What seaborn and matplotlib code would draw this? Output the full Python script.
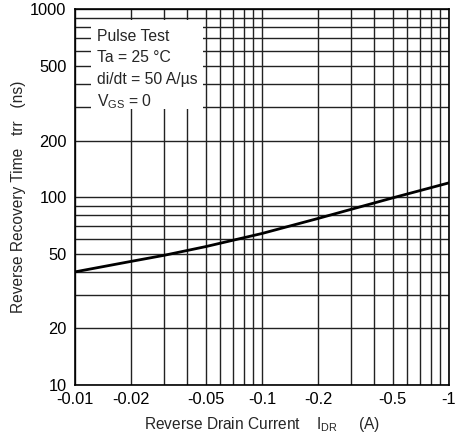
import pandas as pd
import matplotlib.pyplot as plt
import matplotlib.ticker as mticker
from matplotlib.patches import Rectangle
import seaborn as sns

# reverse drain current magnitude (A) and recovery time (ns)
current = [0.01, 0.02, 0.03, 0.05, 0.1, 0.2, 0.5, 1.0]
trr = [40, 45.5, 49, 54.5, 64, 77, 99, 119]

x_ticks = [0.01, 0.02, 0.05, 0.1, 0.2, 0.5, 1]
x_labels = ["-0.01", "-0.02", "-0.05", "-0.1", "-0.2", "-0.5", "-1"]
y_ticks = [10, 20, 50, 100, 200, 500, 1000]
y_labels = ["10", "20", "50", "100", "200", "500", "1000"]

df = pd.DataFrame({"idr": current, "trr": trr})

sns.set_style("white")
plt.rcParams["font.family"] = ["Liberation Sans", "DejaVu Sans"]

fig = plt.figure(figsize=(4.57, 4.38), dpi=100)
ax = fig.add_axes([0.164, 0.121, 0.818, 0.858])

sns.lineplot(data=df, x="idr", y="trr", ax=ax, color="black", linewidth=2.0, zorder=5)

ax.set_xscale("log")
ax.set_yscale("log")
ax.set_xlim(0.01, 1)
ax.set_ylim(10, 1000)

ax.xaxis.set_major_locator(mticker.FixedLocator(x_ticks))
ax.xaxis.set_major_formatter(mticker.FixedFormatter(x_labels))
ax.xaxis.set_minor_locator(mticker.LogLocator(base=10, subs=range(2, 10)))
ax.xaxis.set_minor_formatter(mticker.NullFormatter())
ax.yaxis.set_major_locator(mticker.FixedLocator(y_ticks))
ax.yaxis.set_major_formatter(mticker.FixedFormatter(y_labels))
ax.yaxis.set_minor_locator(mticker.LogLocator(base=10, subs=range(2, 10)))
ax.yaxis.set_minor_formatter(mticker.NullFormatter())

ax.grid(True, which="both", color="#222222", linewidth=1.0)
ax.tick_params(which="both", length=0, labelsize=11.8, colors="black")
ax.tick_params(axis="x", pad=5)
ax.tick_params(axis="y", pad=6)
for s in ax.spines.values():
    s.set_color("black")
    s.set_linewidth(1.2)

# white area behind the test conditions
ax.add_patch(Rectangle((0.042, 0.735), 0.30, 0.237, transform=ax.transAxes,
                       facecolor="white", edgecolor="none", zorder=3))
notes = ["Pulse Test", "Ta = 25 °C", "di/dt = 50 A/µs", r"V$\mathregular{_{GS}}$ = 0"]
for i, t in enumerate(notes):
    ax.text(0.058, 0.928 - i * 0.0577, t, transform=ax.transAxes, fontsize=11.3,
            va="center", ha="left", zorder=4)

ax.set_xlabel(r"Reverse Drain Current    I$\mathregular{_{DR}}$     (A)", fontsize=11.2, labelpad=6)
ax.set_ylabel("Reverse Recovery Time   trr   (ns)", fontsize=11.2, labelpad=3)

plt.savefig("out.png", dpi=100)
